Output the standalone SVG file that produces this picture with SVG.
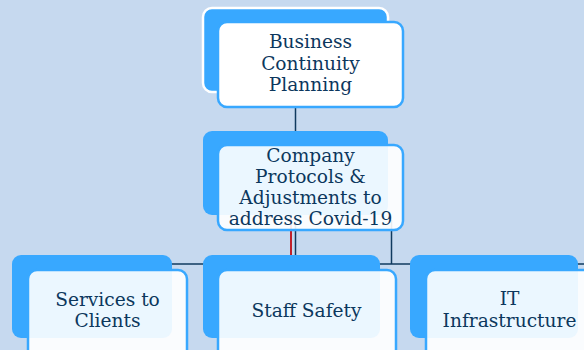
<svg xmlns="http://www.w3.org/2000/svg" width="584" height="350" viewBox="0 0 584 350">
<style>
.bg{fill:#c6d9ef}
.back{fill:#38a8ff}
.front{fill:#ffffff;fill-opacity:0.9;stroke:#38a8ff;stroke-width:2.5}
.t{font-family:"DejaVu Serif","Liberation Serif",serif;font-size:18.6px;fill:#0c375d;text-anchor:middle}
.ln{stroke:#0f3a5f;stroke-width:1.5;fill:none}
</style>
<rect class="bg" x="0" y="0" width="584" height="350"/>
<g id="connectors">
<line class="ln" x1="295.5" y1="100" x2="295.5" y2="135"/>
<line class="ln" x1="295.5" y1="220" x2="295.5" y2="264"/>
<line class="ln" x1="391.5" y1="220" x2="391.5" y2="264"/>
<line class="ln" x1="90" y1="264" x2="584" y2="264"/>
<line x1="291" y1="215" x2="291" y2="256" stroke="#c0202a" stroke-width="2"/>
</g>
<g id="node-bcp">
<rect x="203" y="8" width="185" height="84" rx="9" fill="#38a8ff" stroke="#ffffff" stroke-width="2.5"/>
<rect x="218" y="22" width="185" height="85" rx="9" fill="#ffffff" stroke="#38a8ff" stroke-width="2.5"/>
<text class="t" x="310.5" y="48">Business</text>
<text class="t" x="310.5" y="69.5">Continuity</text>
<text class="t" x="310.5" y="91">Planning</text>
</g>
<g id="node-protocols">
<rect class="back" x="203" y="131" width="185" height="84" rx="9"/>
<rect class="front" x="218" y="145" width="185" height="85" rx="9"/>
<text class="t" x="310.5" y="162">Company</text>
<text class="t" x="310.5" y="183">Protocols &amp;</text>
<text class="t" x="310.5" y="204">Adjustments to</text>
<text class="t" x="310.5" y="225">address Covid-19</text>
</g>
<g id="node-services">
<rect class="back" x="12" y="255" width="160" height="83" rx="9"/>
<rect class="front" x="28" y="270" width="159" height="90" rx="9"/>
<text class="t" x="107.5" y="306">Services to</text>
<text class="t" x="107.5" y="327">Clients</text>
</g>
<g id="node-staff">
<rect class="back" x="203" y="255" width="177" height="83" rx="9"/>
<rect class="front" x="218" y="270" width="178" height="90" rx="9"/>
<text class="t" x="306.5" y="317">Staff Safety</text>
</g>
<g id="node-it">
<rect class="back" x="410" y="255" width="168" height="83" rx="9"/>
<rect class="front" x="426" y="270" width="168" height="90" rx="9"/>
<text class="t" x="509.5" y="305">IT</text>
<text class="t" x="509.5" y="327">Infrastructure</text>
</g>
</svg>
